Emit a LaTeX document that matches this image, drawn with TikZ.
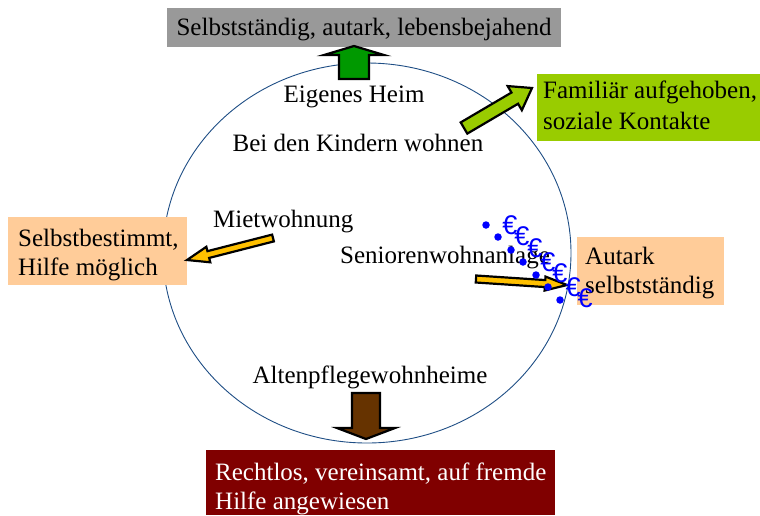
\documentclass[tikz,border=0pt]{standalone}
\usepackage{fontspec}
\setmainfont{Liberation Serif}
\newfontfamily\eurofont{Liberation Sans}
\usetikzlibrary{calc,shapes.geometric}
\definecolor{ringblue}{HTML}{1F4E85}
\definecolor{boxgray}{HTML}{999999}
\definecolor{boxlime}{HTML}{99CC00}
\definecolor{boxpeach}{HTML}{FFCC99}
\definecolor{boxred}{HTML}{800000}
\definecolor{arrgreen}{HTML}{009900}
\definecolor{arrgold}{HTML}{FFC000}
\definecolor{arrbrown}{HTML}{663300}
\definecolor{eurblue}{HTML}{0000FF}
\newcommand{\blockarrow}[6]{%
  \coordinate (bah) at ($(#3)!#6!(#2)$);
  \filldraw[fill=#1, draw=black, line width=2.2pt, line join=miter]
    ($(#2)!#4!90:(#3)$) -- ($(bah)!#4!90:(#3)$) -- ($(bah)!#5!90:(#3)$) -- (#3)
    -- ($(bah)!#5!-90:(#3)$) -- ($(bah)!#4!-90:(#3)$) -- ($(#2)!#4!-90:(#3)$) -- cycle;
}
\tikzset{
  lbl/.style={anchor=base west, inner sep=0pt, font=\fontsize{25}{29}\selectfont, align=left},
  lblc/.style={anchor=base, inner sep=0pt, font=\fontsize{25}{29}\selectfont},
  eur/.style={inner sep=0pt, text=eurblue, font=\eurofont\fontsize{27}{27}\selectfont},
  dot/.style={circle, fill=eurblue, inner sep=0pt, minimum size=7.5pt},
}
\begin{document}
\begin{tikzpicture}[x=1pt, y=-1pt]
\useasboundingbox (0,0) rectangle (760,515);
% ring
\node[ellipse, draw=ringblue, line width=0.9pt, minimum width=408pt, minimum height=380pt, inner sep=0pt] (ring) at (367,253) {};
% panels
\fill[boxgray] (167,8) rectangle (561,47);
\fill[boxlime] (537,74) rectangle (760,141);
\fill[boxpeach] (8,217) rectangle (187,285);
\fill[boxpeach] (577,237) rectangle (724,305);
\fill[boxred] (206,450) rectangle (555,515);
% panel texts (multi-line nodes: base = last baseline)
\node[lblc] (top) at (364,35) {Selbstständig, autark, lebensbejahend};
\node[lbl] (fam) at (543,129) {Familiär aufgehoben,\\[2pt]soziale Kontakte};
\node[lbl] (selb) at (18,275) {Selbstbestimmt,\\Hilfe möglich};
\node[lbl] (aut) at (585,293) {Autark\\selbstständig};
\node[lbl, text=white] (recht) at (215,509) {Rechtlos, vereinsamt, auf fremde\\Hilfe angewiesen};
% ring texts
\node[lblc] (heim) at (354,102) {Eigenes Heim};
\node[lblc] (kind) at (358,151) {Bei den Kindern wohnen};
\node[lbl] (miet) at (213,227) {Mietwohnung};
\node[lbl] (senior) at (340,263) {Seniorenwohnanlage};
\node[lblc] (alten) at (370,383) {Altenpflegewohnheime};
% block arrows
\coordinate (gT) at (354,79);   \coordinate (gP) at (354,46);
\blockarrow{arrgreen}{gT}{gP}{15pt}{30pt}{9pt}
\coordinate (lT) at (464,128);  \coordinate (lP) at (532,88);
\blockarrow{boxlime}{lT}{lP}{6.5pt}{14pt}{20pt}
\coordinate (y1T) at (273,238); \coordinate (y1P) at (187,260);
\blockarrow{arrgold}{y1T}{y1P}{3.5pt}{8pt}{22pt}
\coordinate (y2T) at (476,279); \coordinate (y2P) at (567,285);
\blockarrow{arrgold}{y2T}{y2P}{3.5pt}{7pt}{22pt}
\coordinate (bT) at (366,393);  \coordinate (bP) at (366,439);
\blockarrow{arrbrown}{bT}{bP}{14pt}{29pt}{11pt}
% euro trail
\node[dot] (d1) at (486,225) {};
\node[dot] (d2) at (498,237) {};
\node[dot] (d3) at (511,250) {};
\node[dot] (d4) at (523,262) {};
\node[dot] (d5) at (536,275) {};
\node[dot] (d6) at (548,287) {};
\node[dot] (d7) at (560,300) {};
\node[eur] (e1) at (510,225) {€};
\node[eur] (e2) at (522,236) {€};
\node[eur] (e3) at (535,248) {€};
\node[eur] (e4) at (548,262) {€};
\node[eur] (e5) at (560,273) {€};
\node[eur] (e6) at (573,287) {€};
\node[eur] (e7) at (585,298) {€};
\end{tikzpicture}
\end{document}
